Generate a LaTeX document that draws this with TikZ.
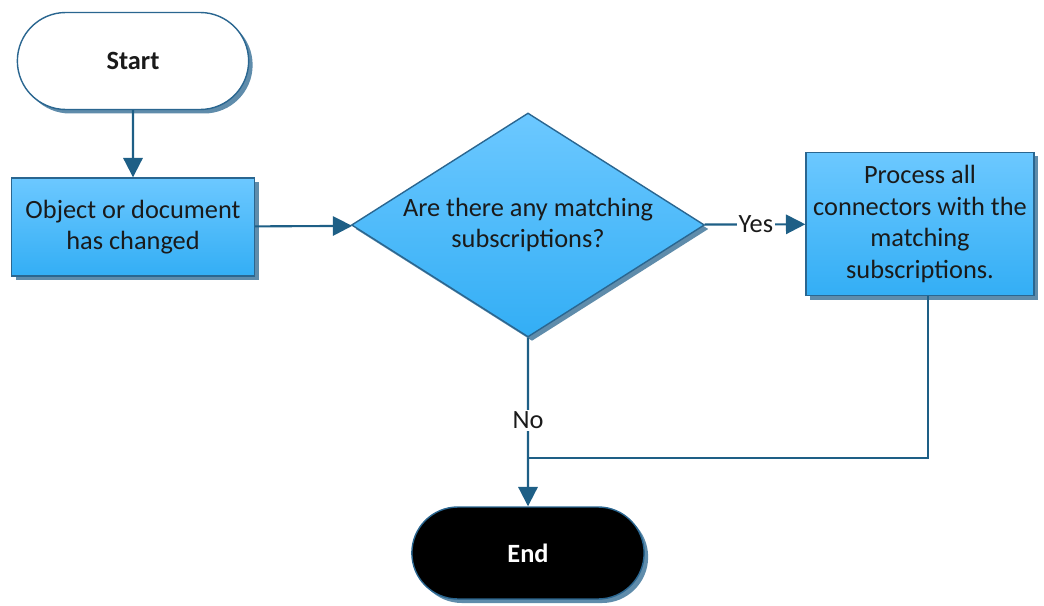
\documentclass[tikz,border=0pt]{standalone}
\usepackage{fontspec}
\setmainfont{Carlito}
\usepackage{tikz}
\usetikzlibrary{arrows.meta,shapes.geometric,shapes.misc,shadows,calc}
\definecolor{edgeblue}{HTML}{2A6690}
\definecolor{linkblue}{HTML}{1E5F86}
\definecolor{lightsky}{HTML}{6CC8FF}
\definecolor{deepsky}{HTML}{33AEF5}
\definecolor{shadowgrey}{HTML}{5F8CAB}
\definecolor{inkdark}{HTML}{1A1A1A}
\tikzset{
  basefont/.style={font=\fontsize{15}{18}\selectfont, text=inkdark},
  terminal/.style={
    rounded rectangle, draw=edgeblue, fill=#1, line width=0.8pt,
    minimum width=4.86cm, minimum height=1.94cm,
    font=\fontsize{15}{18}\selectfont\bfseries,
    drop shadow={shadow xshift=0.08cm, shadow yshift=-0.08cm,
      fill=shadowgrey, opacity=1}
  },
  terminal/.default=white,
  procbox/.style={
    rectangle, draw=edgeblue, line width=0.8pt,
    top color=lightsky, bottom color=deepsky,
    basefont, align=center, inner sep=2pt,
    drop shadow={shadow xshift=0.08cm, shadow yshift=-0.08cm,
      fill=shadowgrey, opacity=1}
  },
  decision/.style={
    diamond, draw=edgeblue, line width=0.8pt,
    top color=lightsky, bottom color=deepsky,
    basefont, align=center, inner sep=0pt, aspect=1.58,
    minimum width=7.06cm, minimum height=4.48cm,
    drop shadow={shadow xshift=0.08cm, shadow yshift=-0.08cm,
      fill=shadowgrey, opacity=1}
  },
  link/.style={
    -{Triangle[length=11pt, width=11pt]}, linkblue, line width=1.2pt
  },
  plainlink/.style={linkblue, line width=1.2pt},
  linklabel/.style={fill=white, inner sep=1pt, basefont}
}
\begin{document}
\begin{tikzpicture}
\useasboundingbox (0,0) rectangle (20.88,-12.1);

\node[terminal, text=inkdark] (start) at (2.66,-1.22) {Start};
\node[procbox, minimum width=4.86cm, minimum height=1.96cm] (changed) at (2.66,-4.54)
  {Object or document\\has changed};
\node[decision] (match) at (10.56,-4.5) {Are there any matching\\subscriptions?};
\node[procbox, minimum width=4.56cm, minimum height=2.86cm] (process) at (18.4,-4.48)
  {Process all\\connectors with the\\matching\\subscriptions.};
\node[terminal=black, text=white, minimum width=4.88cm, minimum height=1.84cm]
  (stop) at (10.56,-11.06) {End};

\coordinate (join) at (10.56,-9.16);

\draw[link] (start) -- (changed);
\draw[link] (changed) -- (match);
\draw[link] (match) -- node[linklabel, pos=0.51] {Yes} (process);
\draw[link] (match) -- node[linklabel, pos=0.49] {No} (stop);
\draw[plainlink] ($(process.south)+(0.16,0)$) |- (join);
\end{tikzpicture}
\end{document}
